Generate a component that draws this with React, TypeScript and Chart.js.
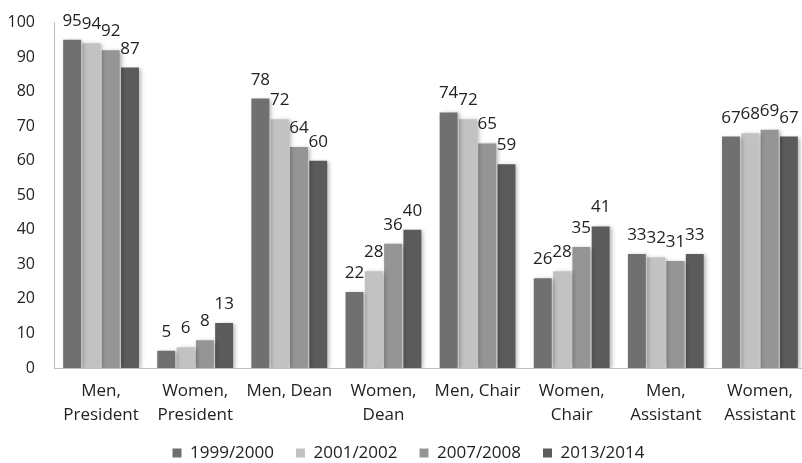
import React, { useEffect, useRef } from "react";
import { Chart, registerables } from "chart.js";

Chart.register(...registerables);

const categories: (string | string[])[] = [
  ["Men,", "President"],
  ["Women,", "President"],
  "Men, Dean",
  ["Women,", "Dean"],
  "Men, Chair",
  ["Women,", "Chair"],
  ["Men,", "Assistant"],
  ["Women,", "Assistant"],
];

const seriesNames = ["1999/2000", "2001/2002", "2007/2008", "2013/2014"];
const s1999 = [95, 5, 78, 22, 74, 26, 33, 67];
const s2001 = [94, 6, 72, 28, 72, 28, 32, 68];
const s2007 = [92, 8, 64, 36, 65, 35, 31, 69];
const s2013 = [87, 13, 60, 40, 59, 41, 33, 67];
const seriesColors = ["#707070", "#c2c2c2", "#959595", "#5b5b5b"];

const FONT = "'Open Sans', 'Liberation Sans', sans-serif";

const shadowPlugin = {
  id: "barShadow",
  beforeDatasetDraw(chart: any) {
    const ctx = chart.ctx;
    ctx.save();
    ctx.shadowColor = "rgba(0,0,0,0.28)";
    ctx.shadowBlur = 4;
    ctx.shadowOffsetX = 2;
    ctx.shadowOffsetY = 1;
  },
  afterDatasetDraw(chart: any) {
    chart.ctx.restore();
  },
};

const labelPlugin = {
  id: "valueLabels",
  afterDatasetsDraw(chart: any) {
    const ctx = chart.ctx;
    ctx.save();
    ctx.font = `17px ${FONT}`;
    ctx.fillStyle = "#222";
    ctx.textAlign = "center";
    ctx.textBaseline = "alphabetic";
    chart.data.datasets.forEach((ds: any, di: number) => {
      const meta = chart.getDatasetMeta(di);
      meta.data.forEach((el: any, i: number) => {
        ctx.fillText(String(ds.data[i]), el.x, el.y - 14);
      });
    });
    ctx.restore();
  },
};

const legendShiftPlugin = {
  id: "legendShift",
  afterLayout(chart: any) {
    if (chart.legend) {
      chart.legend.left += 1;
      chart.legend.right += 1;
    }
  },
};

export default function App() {
  const ref = useRef<HTMLCanvasElement | null>(null);
  useEffect(() => {
    if (!ref.current) return;
    const datasets = [s1999, s2001, s2007, s2013].map((d, i) => ({
      label: seriesNames[i],
      data: d,
      backgroundColor: seriesColors[i],
      borderWidth: 0,
      categoryPercentage: 0.82,
      barPercentage: 0.93,
    }));
    const chart = new Chart(ref.current, {
      type: "bar",
      data: { labels: categories, datasets },
      options: {
        animation: false,
        responsive: false,
        maintainAspectRatio: false,
        layout: { autoPadding: false, padding: { left: 8, right: 21, top: 14, bottom: -8.5 } },
        plugins: {
          legend: {
            position: "bottom",
            labels: {
              boxWidth: 9,
              boxHeight: 9,
              padding: 22,
              color: "#222",
              font: { family: FONT, size: 17 },
            },
          },
          tooltip: { enabled: false },
        },
        scales: {
          x: {
            grid: { display: false, drawTicks: false },
            border: { display: true, color: "#bfbfbf" },
            ticks: {
              color: "#222",
              font: { family: FONT, size: 17, lineHeight: 1.4 },
              padding: 11,
              maxRotation: 0,
              autoSkip: false,
            },
            afterFit: (scale: any) => {
              scale.height = 54.5;
            },
          },
          y: {
            min: 0,
            max: 100,
            grid: { display: false, drawTicks: false },
            border: { display: true, color: "#bfbfbf" },
            ticks: {
              stepSize: 10,
              color: "#222",
              font: { family: FONT, size: 16 },
              padding: 19,
            },
            afterFit: (scale: any) => {
              scale.width = 46;
            },
          },
        },
      },
      plugins: [shadowPlugin, labelPlugin, legendShiftPlugin],
    });
    return () => chart.destroy();
  }, []);
  return (
    <div style={{ position: "absolute", left: 0, top: 0, width: 802, height: 463, overflow: "hidden", background: "#fff" }}>
      <canvas
        ref={ref}
        width={828}
        height={469}
        style={{ display: "block", position: "absolute", left: 0, top: -6 }}
      />
    </div>
  );
}
